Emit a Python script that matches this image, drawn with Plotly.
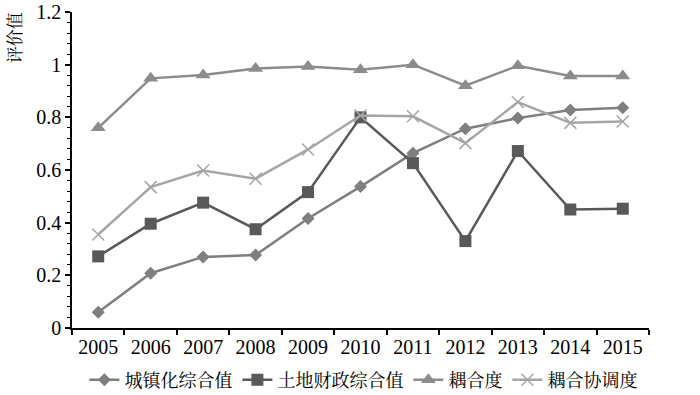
import plotly.graph_objects as go

years = ["2005", "2006", "2007", "2008", "2009", "2010", "2011", "2012", "2013", "2014", "2015"]
urban = [0.06, 0.208, 0.27, 0.277, 0.416, 0.537, 0.664, 0.757, 0.797, 0.828, 0.836]
land = [0.272, 0.396, 0.476, 0.375, 0.516, 0.80, 0.626, 0.33, 0.672, 0.45, 0.453]
coupling = [0.76, 0.948, 0.961, 0.985, 0.993, 0.981, 1.0, 0.92, 0.996, 0.957, 0.957]
coord = [0.355, 0.535, 0.598, 0.567, 0.678, 0.807, 0.804, 0.702, 0.858, 0.779, 0.784]

names = ["城镇化综合值", "土地财政综合值", "耦合度", "耦合协调度"]

FONT = "Liberation Serif, Noto Serif CJK SC, Noto Sans CJK SC, serif"

fig = go.Figure()
fig.add_trace(go.Scatter(x=years, y=urban, name=names[0], mode="lines+markers",
                         line=dict(color="#7f7f7f", width=2.5),
                         marker=dict(symbol="diamond", size=10, color="#7f7f7f")))
fig.add_trace(go.Scatter(x=years, y=land, name=names[1], mode="lines+markers",
                         line=dict(color="#595959", width=2.5),
                         marker=dict(symbol="square", size=12, color="#595959")))
fig.add_trace(go.Scatter(x=years, y=coupling, name=names[2], mode="lines+markers",
                         line=dict(color="#8c8c8c", width=2.5),
                         marker=dict(symbol="triangle-up", size=13, color="#8c8c8c")))
fig.add_trace(go.Scatter(x=years, y=coord, name=names[3], mode="lines+markers",
                         line=dict(color="#a6a6a6", width=2.5),
                         marker=dict(symbol="x-thin", size=12, color="#a6a6a6",
                                     line=dict(color="#a6a6a6", width=1.5))))

fig.update_layout(
    width=700, height=395,
    margin=dict(l=72, r=51, t=12, b=67, autoexpand=False),
    paper_bgcolor="white", plot_bgcolor="white",
    font=dict(family=FONT, size=18, color="black"),
    showlegend=True,
    legend=dict(orientation="h", x=0.505, xanchor="center", y=-0.165, yanchor="middle",
                font=dict(size=18), itemwidth=30, tracegroupgap=0,
                bgcolor="rgba(0,0,0,0)"),
    xaxis=dict(type="category", range=[-0.5, 10.5], tickson="boundaries",
               showline=True, linecolor="black", linewidth=1.5,
               ticks="outside", ticklen=5, tickcolor="black", tickwidth=1.5,
               showgrid=False, zeroline=False, tickfont=dict(size=20)),
    yaxis=dict(range=[0, 1.2], tickvals=[0, 0.2, 0.4, 0.6, 0.8, 1.0, 1.2],
               ticktext=["0", "0.2", "0.4", "0.6", "0.8", "1", "1.2"],
               showline=True, linecolor="black", linewidth=1.5,
               ticks="outside", ticklen=5, tickcolor="black", tickwidth=1.5,
               minor=dict(dtick=0.04, ticks="outside", ticklen=3, tickcolor="black", tickwidth=1),
               showgrid=False, zeroline=False, tickfont=dict(size=20)),
)

fig.add_annotation(text="评价值", xref="paper", yref="paper", x=-0.099, y=0.92,
                   xanchor="center", yanchor="middle", showarrow=False, textangle=-90,
                   font=dict(size=17, family=FONT))

# remove the default 8px page margin so the figure sits at the window's top-left corner
fig.write_html("out.html", config={"displayModeBar": False},
               post_script="document.body.style.margin='0';")
